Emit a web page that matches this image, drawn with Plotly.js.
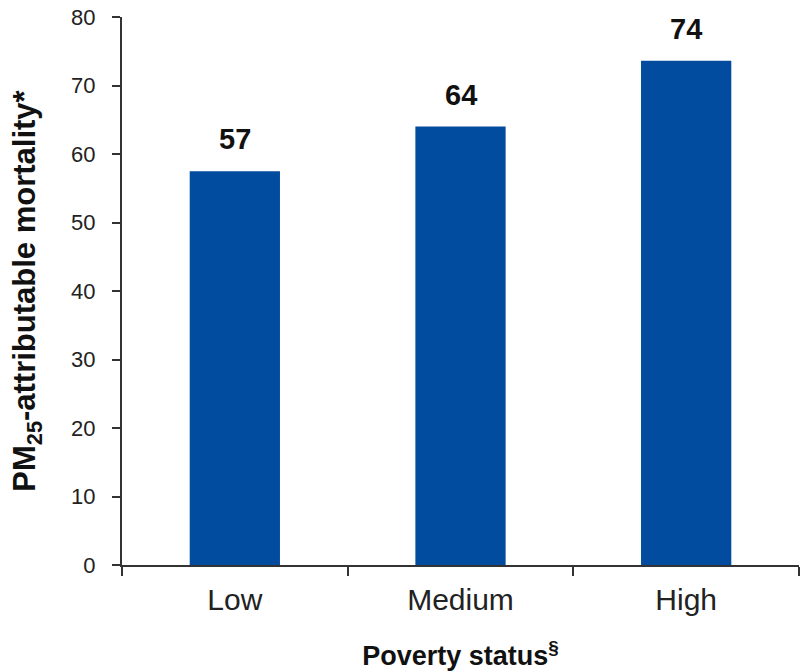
<!DOCTYPE html>
<html>
<head>
<meta charset="utf-8">
<script src="https://cdn.plot.ly/plotly-3.0.1.min.js"></script>
<style>html,body{margin:0;padding:0;background:#fff;}#chart{width:801px;height:671px;}</style>
</head>
<body>
<div id="chart"></div>
<script>
const categories = ["Low", "Medium", "High"];
const mortality = [57.5, 64, 73.6];
const valueLabels = ["57", "64", "74"];
const yTicks = [0, 10, 20, 30, 40, 50, 60, 70, 80];

const titleFont = "'Liberation Sans', Arial, sans-serif";
const regular = "'Liberation Sans', Arial, sans-serif";

const trace = {
  type: "bar",
  x: categories,
  y: mortality,
  width: 0.4,
  marker: {color: "#024C9F", line: {width: 0}},
  hoverinfo: "none"
};

const annotations = categories.map((c, i) => ({
  x: c, y: mortality[i], xref: "x", yref: "y",
  text: valueLabels[i], showarrow: false,
  yanchor: "bottom", yshift: 14,
  font: {family: regular, size: 29, color: "#111", weight: "bold"}
}));

const layout = {
  width: 801, height: 671,
  margin: {l: 122, r: 2, t: 17, b: 106},
  paper_bgcolor: "#fff", plot_bgcolor: "#fff",
  showlegend: false,
  bargap: 0.6,
  xaxis: {
    type: "category",
    showline: true, linecolor: "#333", linewidth: 2,
    ticks: "outside", tickson: "boundaries", ticklen: 9, tickwidth: 2, tickcolor: "#333",
    showgrid: false, zeroline: false,
    tickfont: {family: regular, size: 30, color: "#222"},
    ticklabelstandoff: 7,
    title: {text: "Poverty status<sup>§</sup>", font: {family: titleFont, size: 27, color: "#111", weight: "bold"}, standoff: 32}
  },
  yaxis: {
    range: [0, 80], tickvals: yTicks, ticktext: yTicks.map(String),
    showline: true, linecolor: "#333", linewidth: 2,
    ticks: "outside", ticklen: 8, tickwidth: 2, tickcolor: "#333",
    showgrid: false, zeroline: false,
    tickfont: {family: regular, size: 22, color: "#222"},
    ticklabelstandoff: 12,
    title: {text: "PM<sub>25</sub>-attributable mortality*", font: {family: titleFont, size: 31, color: "#111", weight: "bold"}, standoff: 26}
  },
  annotations: annotations
};

Plotly.newPlot("chart", [trace], layout, {displayModeBar: false, staticPlot: true});
</script>
</body>
</html>
